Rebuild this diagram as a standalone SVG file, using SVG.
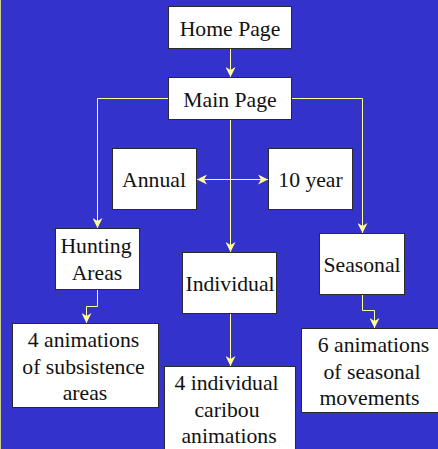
<svg xmlns="http://www.w3.org/2000/svg" width="438" height="449" viewBox="0 0 438 449">
<style>
.box{fill:#ffffff;stroke:#2a2a2a;stroke-width:1}
.t{font-size:21.7px;fill:#111111;text-anchor:middle}
.c{fill:none;stroke:#FFFF99;stroke-width:1}
</style>
<defs>
<marker id="ah" viewBox="0 0 10 10" refX="10" refY="5" markerWidth="10" markerHeight="10" markerUnits="userSpaceOnUse" orient="auto-start-reverse">
<path d="M0,0 L10,5 L0,10 L3,5 z" fill="#FFFF99"/>
</marker>
</defs>
<rect x="0" y="0" width="438" height="449" fill="#3333CC"/>
<line x1="0.5" y1="0" x2="0.5" y2="449" stroke="#CCCC99" stroke-width="1"/>
<g id="connectors">
<path class="c" d="M230.5,49 V77" marker-end="url(#ah)"/>
<path class="c" d="M168,98.5 H97.5 V228" marker-end="url(#ah)"/>
<path class="c" d="M292,98.5 H362.5 V233" marker-end="url(#ah)"/>
<path class="c" d="M230.5,120 V252" marker-end="url(#ah)"/>
<path class="c" d="M197,179.5 H268" marker-start="url(#ah)" marker-end="url(#ah)"/>
<path class="c" d="M97.5,290 V306.5 H86.5 V323" marker-end="url(#ah)"/>
<path class="c" d="M230.5,314 V366" marker-end="url(#ah)"/>
<path class="c" d="M362.5,295 V310.5 H374.5 V328" marker-end="url(#ah)"/>
</g>
<g font-family="'Liberation Serif', 'DejaVu Serif', serif">
<g id="home"><rect class="box" x="168.5" y="6.5" width="123" height="42"/><text class="t" x="230" y="36">Home Page</text></g>
<g id="main"><rect class="box" x="168.5" y="77.5" width="123" height="42"/><text class="t" x="230" y="107">Main Page</text></g>
<g id="annual"><rect class="box" x="112.5" y="148.5" width="84" height="61"/><text class="t" x="154" y="187">Annual</text></g>
<g id="tenyear"><rect class="box" x="268.5" y="148.5" width="84" height="61"/><text class="t" x="310.5" y="187">10 year</text></g>
<g id="hunting"><rect class="box" x="55.5" y="228.5" width="84" height="61"/><text class="t" x="96" y="253">Hunting</text><text class="t" x="97" y="280">Areas</text></g>
<g id="individual"><rect class="box" x="182.5" y="252.5" width="94" height="61"/><text class="t" x="230" y="291">Individual</text></g>
<g id="seasonal"><rect class="box" x="319.5" y="233.5" width="85" height="61"/><text class="t" x="362" y="272">Seasonal</text></g>
<g id="subsistence"><rect class="box" x="12.5" y="323.5" width="146" height="84"/><text class="t" x="83.5" y="347">4 animations</text><text class="t" x="83.5" y="374">of subsistence</text><text class="t" x="85" y="400">areas</text></g>
<g id="caribou"><rect class="box" x="164.5" y="366.5" width="131" height="90"/><text class="t" x="226.5" y="390">4 individual</text><text class="t" x="227" y="417">caribou</text><text class="t" x="229" y="443">animations</text></g>
<g id="seasonalmov"><rect class="box" x="301.5" y="328.5" width="140" height="84"/><text class="t" x="373.5" y="352">6 animations</text><text class="t" x="372" y="378.5">of seasonal</text><text class="t" x="369.5" y="404.5">movements</text></g>
</g>
</svg>
